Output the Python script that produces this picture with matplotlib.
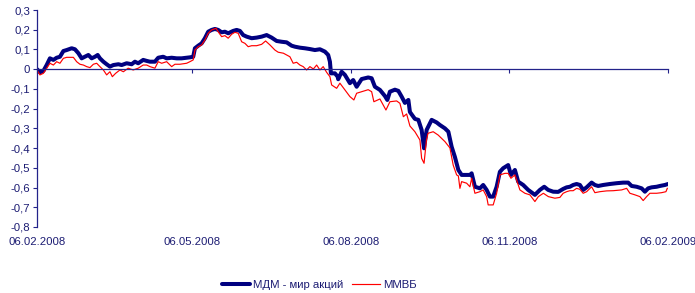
import matplotlib
matplotlib.use("Agg")
import matplotlib.pyplot as plt

# days since 06.02.2008
mdm_days = [0, 1.7, 3.7, 5.6, 7.5, 9.5, 11.4, 13.3, 15.3, 17.2, 20.1, 22.0, 24.0, 25.9, 27.8, 29.8,
            31.7, 33.6, 35.2, 36.5, 38.5, 40.4, 42.3, 44.3, 47.2, 49.1, 52.0, 54.9, 56.8, 58.7, 61.6,
            63.6, 65.5, 68.4, 70.3, 73.2, 75.2, 78.1, 81.0, 83.9, 86.8, 88.7, 90.6, 91.6, 93.5, 95.5,
            97.4, 99.3, 101.3, 103.2, 105.1, 107.1, 109.0, 110.9, 113.8, 115.8, 117.7, 119.6, 121.6,
            124.5, 127.4, 130.3, 133.2, 136.1, 139.0, 141.9, 144.8, 147.7, 149.6, 152.5, 155.4, 158.3,
            161.2, 164.1, 167.0, 168.9, 169.9, 170.5, 172.8, 174.4, 174.7, 176.7, 178.6, 181.5, 183.4,
            185.4, 188.3, 192.1, 194.1, 196.0, 198.9, 201.8, 203.2, 204.7, 207.6, 209.6, 211.5, 213.4,
            215.4, 216.3, 219.2, 221.2, 223.1, 224.5, 226.0, 228.9, 231.8, 233.7, 236.6, 238.6, 240.5,
            242.4, 244.4, 246.3, 249.2, 251.1, 252.1, 254.0, 256.9, 258.8, 260.8, 262.7, 264.6, 266.6,
            268.5, 270.4, 273.3, 274.9, 277.2, 279.1, 282.0, 284.9, 288.8, 291.7, 294.2, 296.5, 299.4,
            302.3, 305.2, 307.2, 309.1, 311.0, 313.0, 314.9, 316.8, 318.8, 321.7, 323.6, 325.5, 328.4,
            332.3, 336.2, 340.0, 342.9, 344.9, 347.8, 350.7, 352.6, 354.5, 356.5, 359.4, 361.3, 364.2, 366]
mdm_vals = [0.0, -0.016, -0.009, 0.021, 0.055, 0.047, 0.058, 0.063, 0.092, 0.097, 0.106, 0.101, 0.081,
            0.055, 0.063, 0.072, 0.055, 0.063, 0.072, 0.055, 0.038, 0.025, 0.013, 0.021, 0.025, 0.021,
            0.030, 0.025, 0.038, 0.030, 0.047, 0.042, 0.038, 0.038, 0.058, 0.063, 0.055, 0.058, 0.055,
            0.055, 0.058, 0.060, 0.063, 0.106, 0.119, 0.131, 0.157, 0.190, 0.199, 0.204, 0.199, 0.187,
            0.190, 0.182, 0.194, 0.199, 0.194, 0.173, 0.165, 0.157, 0.160, 0.165, 0.173, 0.160, 0.143,
            0.139, 0.136, 0.119, 0.114, 0.109, 0.106, 0.102, 0.097, 0.101, 0.089, 0.072, 0.038, -0.021,
            -0.021, -0.038, -0.051, -0.013, -0.029, -0.071, -0.055, -0.089, -0.050, -0.042, -0.046,
            -0.089, -0.105, -0.136, -0.156, -0.114, -0.104, -0.110, -0.139, -0.171, -0.156, -0.217,
            -0.252, -0.257, -0.308, -0.401, -0.308, -0.257, -0.270, -0.283, -0.300, -0.317, -0.393,
            -0.445, -0.511, -0.536, -0.536, -0.536, -0.528, -0.596, -0.604, -0.587, -0.612, -0.646,
            -0.646, -0.596, -0.520, -0.502, -0.486, -0.536, -0.511, -0.570, -0.587, -0.612, -0.637,
            -0.612, -0.596, -0.612, -0.621, -0.622, -0.607, -0.599, -0.596, -0.587, -0.582, -0.587,
            -0.612, -0.599, -0.575, -0.587, -0.592, -0.587, -0.582, -0.578, -0.575, -0.575, -0.592,
            -0.596, -0.604, -0.621, -0.604, -0.599, -0.596, -0.592, -0.587, -0.582]

micex_days = [0, 1.7, 3.7, 5.6, 7.5, 9.5, 11.4, 13.3, 15.3, 17.2, 21.1, 23.0, 24.9, 26.9, 28.8, 30.7,
              32.7, 34.6, 36.5, 38.5, 40.4, 42.3, 43.7, 45.6, 48.1, 50.1, 52.9, 55.8, 58.7, 61.6, 63.6,
              65.5, 68.4, 70.3, 72.3, 75.2, 78.1, 80.0, 82.9, 86.8, 88.7, 90.6, 91.6, 93.5, 95.5, 97.4,
              99.3, 101.3, 103.8, 105.7, 107.1, 109.0, 110.9, 112.9, 114.8, 116.7, 118.7, 120.6, 122.5,
              124.5, 127.4, 130.3, 132.6, 135.1, 138.0, 139.9, 142.9, 144.8, 146.7, 148.6, 150.6, 152.5,
              154.4, 156.4, 158.3, 160.3, 162.2, 164.1, 166.0, 168.0, 169.9, 170.9, 173.8, 175.7, 178.6,
              181.5, 183.8, 185.4, 188.3, 192.1, 194.1, 195.4, 198.9, 202.4, 204.7, 208.6, 210.5, 212.5,
              214.4, 216.3, 219.2, 222.1, 223.1, 224.5, 225.9, 226.8, 229.8, 232.7, 236.6, 239.5, 241.4,
              243.4, 244.4, 245.3, 246.3, 249.2, 251.1, 252.1, 254.0, 256.9, 258.8, 260.8, 261.7, 264.6,
              266.6, 268.5, 271.4, 273.3, 274.9, 277.2, 280.1, 283.0, 285.9, 288.8, 290.8, 293.7, 296.6,
              300.4, 303.3, 305.2, 307.2, 309.1, 311.0, 313.0, 314.9, 316.8, 318.8, 321.7, 323.6, 326.5,
              330.4, 334.2, 339.1, 342.0, 343.9, 346.8, 349.7, 351.6, 353.6, 355.5, 359.4, 362.3, 364.8, 365.6]
micex_vals = [-0.004, -0.029, -0.021, 0.005, 0.030, 0.021, 0.038, 0.030, 0.055, 0.060, 0.060, 0.038,
              0.025, 0.021, 0.013, 0.008, 0.025, 0.030, 0.013, -0.004, -0.029, -0.013, -0.038, -0.021,
              -0.004, -0.013, 0.005, -0.004, 0.005, 0.021, 0.021, 0.013, 0.005, 0.038, 0.030, 0.038,
              0.013, 0.025, 0.025, 0.030, 0.038, 0.047, 0.097, 0.114, 0.123, 0.148, 0.182, 0.199, 0.207,
              0.182, 0.165, 0.170, 0.157, 0.177, 0.187, 0.182, 0.139, 0.131, 0.114, 0.119, 0.119, 0.126,
              0.143, 0.123, 0.097, 0.086, 0.081, 0.072, 0.063, 0.030, 0.035, 0.021, 0.013, -0.004, 0.013,
              0.001, 0.021, -0.004, 0.013, -0.016, -0.038, -0.080, -0.097, -0.071, -0.105, -0.139, -0.156,
              -0.122, -0.114, -0.104, -0.114, -0.165, -0.151, -0.207, -0.165, -0.161, -0.173, -0.241,
              -0.227, -0.288, -0.317, -0.359, -0.452, -0.477, -0.359, -0.325, -0.317, -0.334, -0.367,
              -0.399, -0.486, -0.536, -0.541, -0.604, -0.570, -0.578, -0.596, -0.553, -0.629, -0.621,
              -0.612, -0.646, -0.688, -0.688, -0.629, -0.536, -0.528, -0.528, -0.553, -0.536, -0.612,
              -0.629, -0.637, -0.671, -0.646, -0.629, -0.646, -0.654, -0.650, -0.629, -0.621, -0.616,
              -0.616, -0.604, -0.609, -0.629, -0.621, -0.596, -0.626, -0.621, -0.617, -0.616, -0.612,
              -0.604, -0.629, -0.637, -0.646, -0.666, -0.646, -0.629, -0.629, -0.626, -0.621, -0.604]

tick_days = [0, 90, 182, 274, 366]
tick_labels = ["06.02.2008", "06.05.2008", "06.08.2008", "06.11.2008", "06.02.2009"]
y_ticks = [0.3, 0.2, 0.1, 0.0, -0.1, -0.2, -0.3, -0.4, -0.5, -0.6, -0.7, -0.8]
series_names = ["МДМ - мир акций", "ММВБ"]

TXT = "#1c1c73"
AX = "#23238a"
FONT = "Liberation Sans"
plt.rcParams["font.family"] = [FONT, "DejaVu Sans"]
plt.rcParams["font.size"] = 8.2

fig = plt.figure(figsize=(6.95, 2.93), dpi=100)
ax = fig.add_axes([37 / 695, 1 - 227 / 293, (668 - 37) / 695, (227 - 10) / 293])

l1, = ax.plot(mdm_days, mdm_vals, color="#000080", lw=2.9, solid_joinstyle="round",
              solid_capstyle="round", label=series_names[0])
l2, = ax.plot(micex_days, micex_vals, color="#ff0000", lw=0.85, label=series_names[1])

ax.set_xlim(0, 366)
ax.set_ylim(-0.8, 0.3)
ax.set_yticks(y_ticks)
ax.set_yticklabels([("%.1f" % v).replace(".", ",").replace("-0,0", "0").replace("0,0", "0")
                    if v != 0 else "0" for v in y_ticks])
ax.tick_params(axis="y", direction="out", length=3, width=0.8, color=AX, labelcolor=TXT, pad=2)

for s in ["top", "right"]:
    ax.spines[s].set_visible(False)
ax.spines["left"].set_color(AX)
ax.spines["left"].set_linewidth(0.9)
ax.spines["bottom"].set_position(("data", 0))
ax.spines["bottom"].set_color(AX)
ax.spines["bottom"].set_linewidth(0.9)
ax.set_xticks(tick_days)
ax.tick_params(axis="x", direction="out", length=3, width=0.8, color=AX, labelbottom=False)

sec = ax.secondary_xaxis(0.0)
sec.set_xticks(tick_days)
sec.set_xticklabels(tick_labels)
sec.tick_params(axis="x", length=0, pad=7.5, labelcolor=TXT)
sec.spines["bottom"].set_visible(False)

leg = fig.legend(handles=[l1, l2], loc="center", bbox_to_anchor=(319.5 / 695, 1 - 285 / 293),
                 ncol=2, frameon=False, handlelength=2.4, handletextpad=0.3, columnspacing=0.8,
                 borderaxespad=0)
for t in leg.get_texts():
    t.set_color(TXT)

fig.savefig("out.png", dpi=100)
